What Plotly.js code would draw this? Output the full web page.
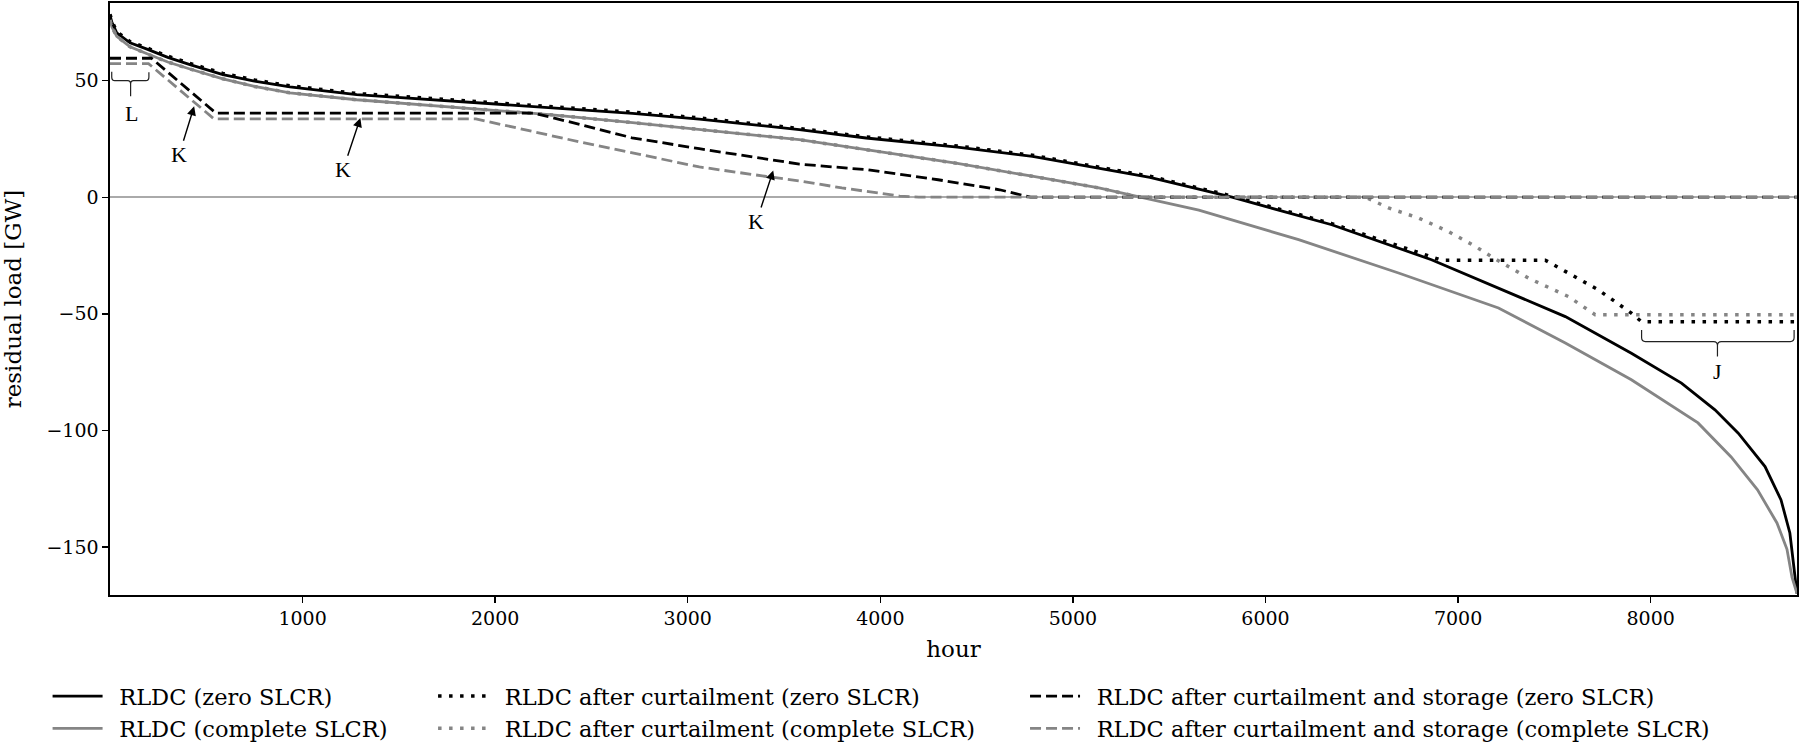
<!DOCTYPE html>
<html>
<head>
<meta charset="utf-8">
<script src="https://cdn.plot.ly/plotly-3.0.1.min.js"></script>
<style>
  html, body { margin: 0; padding: 0; background: #fff; }
  #chart { width: 1800px; height: 745px; }
</style>
</head>
<body>
<div id="chart"></div>
<script>
// Residual load duration curves (hour, GW)
const rldcZeroHours = [0, 10, 35, 104, 199, 300, 415, 586, 750, 934, 1281, 1625, 1971, 2282, 2713, 3060, 3579, 3926, 4400, 4790, 5135, 5400, 5826, 6344, 6862, 7210, 7557, 7900, 8160, 8334, 8455, 8594, 8677, 8723, 8745, 8760];
const rldcZeroLoad  = [78, 75, 70.5, 66.2, 63.3, 60, 56.9, 52.6, 49.8, 47.3, 44.0, 42.1, 40.4, 38.6, 36.0, 33.5, 29.0, 25.4, 21.5, 17.5, 12.5, 8.5, 0, -11.8, -26.8, -39.0, -51.2, -66.9, -79.7, -91.2, -101.2, -115.5, -129.8, -144, -158.6, -170];

const rldcFullHours = [0, 10, 35, 104, 199, 300, 415, 586, 750, 934, 1281, 1625, 1971, 2282, 2713, 3060, 3579, 3926, 4400, 4788, 5135, 5350, 5654, 6172, 6691, 7210, 7557, 7900, 8246, 8418, 8555, 8656, 8708, 8734, 8760];
const rldcFullLoad  = [76, 73, 69, 64.5, 61.3, 58, 55, 50.8, 47.5, 44.8, 41.8, 39.6, 37.5, 35.4, 32, 29.0, 24.7, 20.4, 14.5, 9, 4, 0, -5.5, -18.2, -32.5, -47.5, -62.5, -78.3, -96.8, -111.4, -125.5, -139.7, -151, -163, -170];

const curtZeroHours = [0, 10, 35, 104, 199, 300, 415, 586, 750, 934, 1281, 1625, 1971, 2282, 2713, 3060, 3579, 3926, 4400, 4790, 5135, 5400, 5826, 6344, 6914, 7453, 7557, 7728, 7900, 7953, 8760];
const curtZeroLoad  = [78.5, 75.5, 71, 66.7, 63.8, 60.5, 57.4, 53.1, 50.3, 47.8, 44.5, 42.6, 40.9, 39.1, 36.5, 34.0, 29.5, 25.9, 22.0, 18.0, 13.0, 9.0, 0.5, -11.3, -27.0, -27.0, -31.8, -39.7, -49.7, -53.4, -53.4];

const curtFullHours = [0, 10, 35, 104, 199, 300, 415, 586, 750, 934, 1281, 1625, 1971, 2282, 2713, 3060, 3579, 3926, 4400, 4788, 5135, 5350, 6520, 6639, 6795, 6950, 7090, 7193, 7365, 7573, 7712, 8760];
const curtFullLoad  = [76, 73, 69, 64.5, 61.3, 58, 55, 50.8, 47.5, 44.8, 41.8, 39.6, 37.5, 35.4, 32, 29.0, 24.7, 20.4, 14.5, 9, 4, 0, 0, -4.6, -8.9, -14.7, -21.1, -26.5, -34.7, -42.6, -50.4, -50.4];

const storZeroHours = [0, 215, 550, 2200, 2450, 2710, 3060, 3580, 3930, 4300, 4620, 4780, 8760];
const storZeroLoad  = [59.6, 59.6, 36.1, 36.1, 31, 25.5, 20.8, 14.2, 11.8, 7.5, 3.2, 0, 0];

const storFullHours = [0, 200, 540, 1900, 2195, 2450, 2713, 3060, 3400, 3580, 3800, 4100, 4200, 8760];
const storFullLoad  = [57.3, 57.3, 33.6, 33.6, 28.2, 23.5, 19.0, 13.0, 9.0, 7.0, 4.0, 0.5, 0, 0];

const xTicks = [1000, 2000, 3000, 4000, 5000, 6000, 7000, 8000];

const FONT = 'DejaVu Serif, serif';
const BLACK = '#000000';
const GREY = '#858585';
const PAD = '\u00a0\u2009'; // gap between legend line and label

const traces = [
  { x: rldcZeroHours, y: rldcZeroLoad, name: 'RLDC (zero SLCR)', legend: 'legend',
    line: { color: BLACK, width: 2.8 } },
  { x: rldcFullHours, y: rldcFullLoad, name: 'RLDC (complete SLCR)', legend: 'legend',
    line: { color: GREY, width: 2.8 } },
  { x: curtZeroHours, y: curtZeroLoad, name: 'RLDC after curtailment (zero SLCR)', legend: 'legend2',
    line: { color: BLACK, width: 3.5, dash: '3.5px,7.5px' } },
  { x: curtFullHours, y: curtFullLoad, name: 'RLDC after curtailment (complete SLCR)', legend: 'legend2',
    line: { color: GREY, width: 3.5, dash: '3.5px,7.5px' } },
  { x: storZeroHours, y: storZeroLoad, name: 'RLDC after curtailment and storage (zero SLCR)', legend: 'legend3',
    line: { color: BLACK, width: 2.8, dash: '11px,5px' } },
  { x: storFullHours, y: storFullLoad, name: 'RLDC after curtailment and storage (complete SLCR)', legend: 'legend3',
    line: { color: GREY, width: 2.8, dash: '11px,5px' } },
].map(t => ({ ...t, name: PAD + t.name, type: 'scatter', mode: 'lines', hoverinfo: 'skip' }));

const legendBase = {
  orientation: 'v',
  xanchor: 'left', yanchor: 'top',
  y: -0.1351,
  font: { family: FONT, size: 22.5, color: '#000' },
  bgcolor: 'rgba(0,0,0,0)',
  borderwidth: 0,
  itemwidth: 50,
  tracegroupgap: 0,
};

const arrow = (x, y, ax, ay) => ({
  x, y, ax, ay, xref: 'x', yref: 'y', axref: 'x', ayref: 'y',
  text: 'K', showarrow: true, arrowhead: 2, arrowsize: 1.3, arrowwidth: 1.4,
  arrowcolor: '#000', standoff: 0, startstandoff: 0,
  font: { family: 'Liberation Serif, serif', size: 22, color: '#000' },
});

const braceLine = { color: '#222', width: 1.2 };

const layout = {
  width: 1800,
  height: 745,
  paper_bgcolor: '#fff',
  plot_bgcolor: '#fff',
  margin: { l: 110, r: 3, t: 3, b: 150, autoexpand: false },
  font: { family: FONT, color: '#000', size: 19 },
  showlegend: true,
  xaxis: {
    range: [0, 8760],
    tickvals: xTicks,
    ticks: 'outside', ticklen: 6, tickwidth: 1.4, tickcolor: '#000',
    showline: true, mirror: true, linecolor: '#000', linewidth: 1.6,
    showgrid: false, zeroline: false,
    tickfont: { family: FONT, size: 19, color: '#000' },
    title: { text: 'hour', font: { family: FONT, size: 23, color: '#000' }, standoff: 12 },
  },
  yaxis: {
    range: [-170.6, 83.3],
    dtick: 50,
    ticks: 'outside', ticklen: 6, tickwidth: 1.4, tickcolor: '#000',
    showline: true, mirror: true, linecolor: '#000', linewidth: 1.6,
    showgrid: false,
    zeroline: true, zerolinecolor: '#aaaaaa', zerolinewidth: 2,
    tickfont: { family: FONT, size: 19, color: '#000' },
    title: { text: 'residual load [GW]', font: { family: FONT, size: 23, color: '#000' }, standoff: 18 },
  },
  legend:  { ...legendBase, x: -0.037 },
  legend2: { ...legendBase, x: 0.1915 },
  legend3: { ...legendBase, x: 0.5424 },
  annotations: [
    arrow(437, 39.0, 359, 18.2),
    arrow(1300, 34.0, 1210, 11.8),
    arrow(3444, 11.5, 3357, -10.4),
    { x: 112, y: 36.1, xref: 'x', yref: 'y', text: 'L', showarrow: false,
      font: { family: 'Liberation Serif, serif', size: 22, color: '#000' } },
    { x: 8347, y: -74.8, xref: 'x', yref: 'y', text: 'J', showarrow: false,
      font: { family: 'Liberation Serif, serif', size: 22, color: '#000' } },
  ],
  shapes: [
    { type: 'path', xref: 'x', yref: 'y', line: braceLine,
      path: 'M 9,53.8 L 9,51.6 Q 9,50 25,50 L 92,50 Q 107,50 107,48.6 L 107,43.3 ' +
            'M 107,48.6 Q 107,50 122,50 L 186,50 Q 202,50 202,51.6 L 202,53.6' },
    { type: 'path', xref: 'x', yref: 'y', line: braceLine,
      path: 'M 7953,-56.9 L 7953,-60.2 Q 7953,-61.9 7973,-61.9 L 8327,-61.9 Q 8347,-61.9 8347,-63.6 L 8347,-68.3 ' +
            'M 8347,-63.6 Q 8347,-61.9 8367,-61.9 L 8725,-61.9 Q 8745,-61.9 8745,-60.2 L 8745,-56.9' },
  ],
};

Plotly.newPlot('chart', traces, layout, { displayModeBar: false, staticPlot: true });
</script>
</body>
</html>
